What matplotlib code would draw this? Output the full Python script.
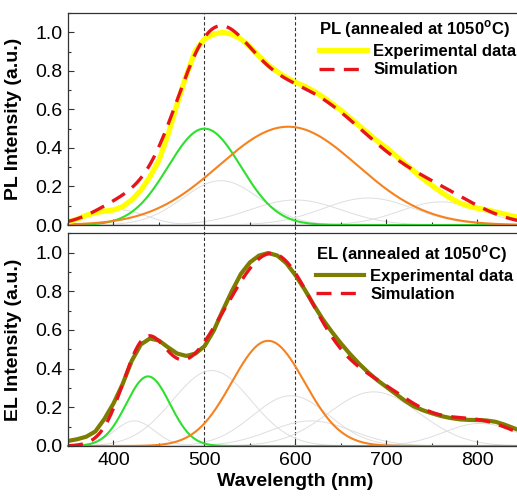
import numpy as np
import matplotlib

matplotlib.use("Agg")
import matplotlib.pyplot as plt
from matplotlib.lines import Line2D
from matplotlib.ticker import MultipleLocator

plt.rcParams["font.family"] = ["Liberation Sans", "DejaVu Sans"]
plt.rcParams["mathtext.fontset"] = "custom"
plt.rcParams["mathtext.rm"] = "Liberation Sans"
plt.rcParams["mathtext.bf"] = "Liberation Sans:bold"

# measured spectra, sampled every 10 nm
wl_data = np.arange(350, 851, 10)
pl_exp = [
    0.015, 0.030, 0.050, 0.064, 0.072, 0.078, 0.095, 0.130, 0.180, 0.250,
    0.336, 0.470, 0.630, 0.776, 0.905, 0.965, 0.990, 1.000, 0.990, 0.965,
    0.925, 0.875, 0.830, 0.795, 0.765, 0.740, 0.720, 0.695, 0.665, 0.630,
    0.595, 0.555, 0.515, 0.475, 0.435, 0.400, 0.360, 0.320, 0.280, 0.240,
    0.205, 0.170, 0.140, 0.115, 0.098, 0.087, 0.078, 0.068, 0.056, 0.045,
    0.035,
]
el_exp = [
    0.026, 0.035, 0.048, 0.075, 0.140, 0.220, 0.320, 0.440, 0.525, 0.556,
    0.545, 0.510, 0.478, 0.466, 0.478, 0.516, 0.595, 0.700, 0.800, 0.890,
    0.950, 0.985, 0.998, 0.985, 0.945, 0.883, 0.810, 0.730, 0.655, 0.590,
    0.530, 0.475, 0.425, 0.380, 0.340, 0.305, 0.270, 0.235, 0.205, 0.185,
    0.169, 0.155, 0.145, 0.138, 0.135, 0.134, 0.132, 0.125, 0.110, 0.092,
    0.074,
]

# gaussian fit components: centre (nm), height, sigma (nm)
pl_center = [405, 500, 518, 592, 600, 680, 760]
pl_height = [0.08, 0.50, 0.23, 0.51, 0.13, 0.14, 0.12]
pl_sigma = [30, 40, 42, 76, 50, 50, 45]
pl_color = ["gray", "green", "gray", "orange", "gray", "gray", "gray"]

el_center = [423, 438, 508, 570, 595, 617, 686, 803]
el_height = [0.13, 0.36, 0.39, 0.544, 0.26, 0.13, 0.28, 0.117]
el_sigma = [22, 24, 43, 40, 42, 45, 50, 40]
el_color = ["gray", "green", "gray", "orange", "gray", "gray", "gray", "gray"]

COLORS = {"gray": "#dedede", "green": "#2ee02e", "orange": "#f5821f"}
RED = "#e8141c"
INK = "#333333"

W, H = 517, 496
fig = plt.figure(figsize=(W / 100, H / 100), dpi=100)
left, width = 68 / W, 455 / W
ax_pl = fig.add_axes([left, (H - 225) / H, width, 212 / H])
ax_el = fig.add_axes([left, (H - 446) / H, width, 212.7 / H])

wl = np.linspace(350, 850, 501)


def components(ax, centers, heights, sigmas, colors):
    total = np.zeros_like(wl)
    for c, h, s, col in zip(centers, heights, sigmas, colors):
        y = h * np.exp(-((wl - c) ** 2) / (2 * s ** 2))
        total += y
        if col == "gray":
            ax.plot(wl, y, color=COLORS[col], lw=0.7, zorder=1)
        else:
            ax.plot(wl, y, color=COLORS[col], lw=1.5, zorder=2, clip_on=False)
    return total


def panel(ax, exp, exp_color, exp_lw, comps, title, anchor):
    sim = components(ax, *comps)
    ax.plot(wl_data, exp, color=exp_color, lw=exp_lw, zorder=3,
            solid_capstyle="round", solid_joinstyle="round")
    ax.plot(wl, sim, color=RED, lw=2.4, ls=(0, (4.5, 2.8)), zorder=4)
    ax.set_xlim(350, 850)
    ax.set_ylim(0, 1.1)
    ax.xaxis.set_major_locator(MultipleLocator(100))
    ax.xaxis.set_minor_locator(MultipleLocator(50))
    ax.yaxis.set_major_locator(MultipleLocator(0.2))
    ax.yaxis.set_minor_locator(MultipleLocator(0.1))
    ax.tick_params(which="both", direction="in", color=INK, width=0.8,
                   labelsize=14, top=False, right=False)
    ax.tick_params(which="major", length=4, pad=4)
    ax.tick_params(which="minor", length=2.5)
    for sp in ax.spines.values():
        sp.set_color(INK)
        sp.set_linewidth(0.9)
        sp.set_zorder(5)
    handles = [
        Line2D([], [], color=exp_color, lw=exp_lw),
        Line2D([], [], color=RED, lw=2.4, ls=(0, (4.5, 2.8))),
    ]
    leg = ax.legend(
        handles, ["Experimental data", "Simulation"],
        title=title, loc="upper left", bbox_to_anchor=anchor,
        frameon=False, borderpad=0, borderaxespad=0,
        handlelength=2.9, handletextpad=0.35, labelspacing=0.2,
        alignment="left", prop={"weight": "bold", "size": 12},
        title_fontproperties={"weight": "bold", "size": 12},
    )
    leg._legend_box.sep = 3


panel(ax_pl, pl_exp, "#ffff00", 3.8,
      (pl_center, pl_height, pl_sigma, pl_color),
      r"PL (annealed at 1050$^{\mathbf{o}}$C)", (0.552, 0.975))
panel(ax_el, el_exp, "#7d7d00", 3.0,
      (el_center, el_height, el_sigma, el_color),
      r"EL (annealed at 1050$^{\mathbf{o}}$C)", (0.545, 0.955))

ax_pl.tick_params(labelbottom=False)

# dashed guides at 500 and 600 nm, carried across the gap
for x in (500, 600):
    ax_pl.axvline(x, color=INK, lw=0.8, ls=(0, (3, 2)), zorder=0)
    ax_el.axvline(x, ymin=0, ymax=1.04, color=INK, lw=0.8,
                  ls=(0, (3, 2)), zorder=0, clip_on=False)

ax_pl.set_ylabel("PL Intensity (a.u.)", fontsize=14, fontweight="bold")
ax_el.set_ylabel("EL Intensity (a.u.)", fontsize=14, fontweight="bold")
ax_pl.yaxis.set_label_coords(-0.1, 0.5)
ax_el.yaxis.set_label_coords(-0.1, 0.5)
ax_el.set_xlabel("Wavelength (nm)", fontsize=14, fontweight="bold")
ax_el.xaxis.set_label_coords(0.5, -0.125)

fig.savefig("out.png", dpi=100)
